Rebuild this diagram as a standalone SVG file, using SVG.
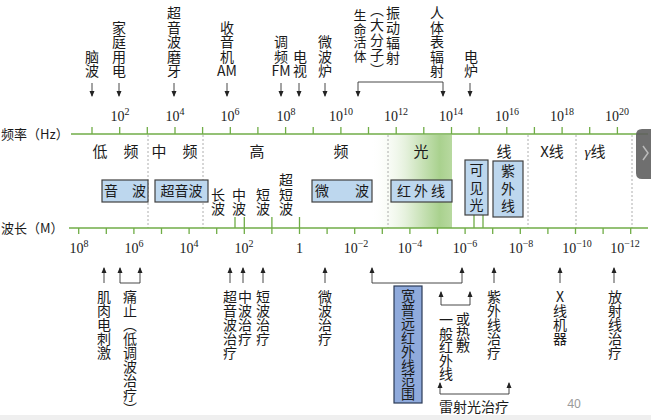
<svg xmlns="http://www.w3.org/2000/svg" width="651" height="420" viewBox="0 0 651 420">
<defs>
<style>
.t{font-family:"Noto Sans CJK SC","Noto Sans",sans-serif;font-size:14px;fill:#1a1a1a;text-anchor:middle}
.v{font-family:"Noto Sans CJK SC","Noto Sans",sans-serif;font-size:14px;fill:#1a1a1a;writing-mode:vertical-rl;text-orientation:upright;text-anchor:start}
.b{font-size:15px}
.n{font-family:"Liberation Serif","DejaVu Serif",serif;font-size:14px;fill:#1a1a1a;text-anchor:middle}
.sup{font-size:10px}
.ax{stroke:#70ad47;stroke-width:1.5;fill:none}
.tk{stroke:#70ad47;stroke-width:1.3}
.dash{stroke:#9a9a9a;stroke-width:0.8;stroke-dasharray:2,2;fill:none}
.box{fill:#bdd7ee;stroke:#404040;stroke-width:1.2}
.ar{stroke:#333;stroke-width:0.9;fill:none}
</style>
<linearGradient id="gr" x1="370" y1="0" x2="452" y2="0" gradientUnits="userSpaceOnUse">
<stop offset="0" stop-color="#ffffff" stop-opacity="0"/>
<stop offset="0.45" stop-color="#e3f0da"/>
<stop offset="0.85" stop-color="#a9d18e"/>
<stop offset="1" stop-color="#b8d9a0"/>
</linearGradient>
<marker id="ah" viewBox="0 0 6 6" refX="5" refY="3" markerWidth="6" markerHeight="6" markerUnits="userSpaceOnUse" orient="auto">
<path d="M0,0.5 L6,3 L0,5.5 Z" fill="#222"/>
</marker>
</defs>
<rect width="651" height="420" fill="#fff"/>
<rect x="0" y="415" width="651" height="5" fill="#efefef"/>

<rect x="370" y="135" width="82" height="93" fill="url(#gr)"/>

<g id="separators">
<line class="dash" x1="148" y1="135" x2="148" y2="228"/>
<line class="dash" x1="203" y1="135" x2="203" y2="228"/>
<line class="dash" x1="388" y1="135" x2="388" y2="228"/>
<line class="dash" x1="528" y1="135" x2="528" y2="228"/>
<line class="dash" x1="576" y1="135" x2="576" y2="228"/>
<line class="dash" x1="632" y1="135" x2="632" y2="228"/>
</g>

<g id="freq-axis">
<text class="t" x="1" y="138.5" style="font-size:13px;text-anchor:start">频率（Hz）</text>
<line class="ax" x1="71" y1="134" x2="648" y2="134"/>
<path class="tk" d="M92,127V134M119.7,127V134M147.3,127V134M175,127V134M202.6,127V134M230.3,127V134M257.9,127V134M285.6,127V134M313.2,127V134M340.9,127V134M368.5,127V134M396.2,127V134M423.8,127V134M451.5,127V134M479.1,127V134M506.8,127V134M534.4,127V134M562.1,127V134M589.7,127V134M617.4,127V134"/>
<text class="n" x="120" y="121">10<tspan class="sup" dy="-6">2</tspan></text>
<text class="n" x="175" y="121">10<tspan class="sup" dy="-6">4</tspan></text>
<text class="n" x="230" y="121">10<tspan class="sup" dy="-6">6</tspan></text>
<text class="n" x="286" y="121">10<tspan class="sup" dy="-6">8</tspan></text>
<text class="n" x="341" y="121">10<tspan class="sup" dy="-6">10</tspan></text>
<text class="n" x="396" y="121">10<tspan class="sup" dy="-6">12</tspan></text>
<text class="n" x="451" y="121">10<tspan class="sup" dy="-6">14</tspan></text>
<text class="n" x="507" y="121">10<tspan class="sup" dy="-6">16</tspan></text>
<text class="n" x="562" y="121">10<tspan class="sup" dy="-6">18</tspan></text>
<text class="n" x="617" y="121">10<tspan class="sup" dy="-6">20</tspan></text>
</g>

<g id="wave-axis">
<text class="t" x="1" y="232.5" style="font-size:13px;text-anchor:start">波长（M）</text>
<line class="ax" x1="69" y1="228" x2="648" y2="228"/>
<path class="tk" d="M78.7,228V234M106.3,228V234M133.9,228V234M161.5,228V234M189.1,228V234M216.7,228V234M244.3,217V234M271.9,217V234M299.5,217V234M327.1,228V234M354.7,228V234M382.3,228V234M409.9,228V234M437.5,228V234M465.1,228V234M492.7,228V234M520.3,228V234M547.9,228V234M575.5,228V234M603.1,228V234M630.7,228V234M235,217V228M474,215V228M483,215V228"/>
<text class="n" x="79" y="253">10<tspan class="sup" dy="-6">8</tspan></text>
<text class="n" x="134" y="253">10<tspan class="sup" dy="-6">6</tspan></text>
<text class="n" x="189" y="253">10<tspan class="sup" dy="-6">4</tspan></text>
<text class="n" x="244" y="253">10<tspan class="sup" dy="-6">2</tspan></text>
<text class="n" x="299.5" y="253">1</text>
<text class="n" x="356" y="253">10<tspan class="sup" dy="-6">−2</tspan></text>
<text class="n" x="410" y="253">10<tspan class="sup" dy="-6">−4</tspan></text>
<text class="n" x="465" y="253">10<tspan class="sup" dy="-6">−6</tspan></text>
<text class="n" x="521" y="253">10<tspan class="sup" dy="-6">−8</tspan></text>
<text class="n" x="577" y="253">10<tspan class="sup" dy="-6">−10</tspan></text>
<text class="n" x="625" y="253">10<tspan class="sup" dy="-6">−12</tspan></text>
</g>

<g id="bands">
<text class="t b" x="100" y="157">低</text>
<text class="t b" x="131" y="157">频</text>
<text class="t b" x="159" y="157">中</text>
<text class="t b" x="190" y="157">频</text>
<text class="t b" x="257" y="157">高</text>
<text class="t b" x="341" y="157">频</text>
<text class="t b" x="421" y="157">光</text>
<text class="t b" x="504" y="157">线</text>
<text class="t b" x="552" y="157">X线</text>
<text class="t b" x="595" y="157"><tspan style="font-family:'Liberation Serif',serif;font-style:italic">γ</tspan>线</text>
</g>

<g id="sound"><rect class="box" x="102" y="180" width="46" height="22"/><text class="t" x="125" y="196">音　波</text></g>
<g id="ultrasound"><rect class="box" x="155" y="180" width="53" height="22"/><text class="t" x="181.5" y="196">超音波</text></g>
<g id="microwave"><rect class="box" x="312" y="180" width="60" height="22"/><text class="t" x="342" y="196" style="letter-spacing:6px" dx="3">微　波</text></g>
<g id="infrared"><rect class="box" x="391" y="180" width="61" height="22"/><text class="t" x="421" y="196" style="letter-spacing:3px" dx="1.5">红外线</text></g>
<g id="visible"><rect class="box" x="465" y="160" width="23" height="55"/><text class="v" x="476.5" y="163" style="letter-spacing:3.5px">可见光</text></g>
<g id="uv"><rect class="box" x="493" y="161" width="30" height="56"/><text class="v" x="508" y="164" style="letter-spacing:3.5px">紫外线</text></g>

<g id="lw"><text class="v" x="218" y="188">长波</text></g>
<g id="mw"><text class="v" x="239" y="188">中波</text></g>
<g id="sw"><text class="v" x="263" y="188">短波</text></g>
<g id="usw"><text class="v" x="286" y="173" style="letter-spacing:0.5px">超短波</text></g>

<g id="top-labels">
<text class="v" x="92" y="49.5" style="letter-spacing:0.5px">脑波</text>
<text class="v" x="119" y="20.5" style="letter-spacing:0.5px">家庭用电</text>
<text class="v" x="174" y="6" style="letter-spacing:0.5px">超音波磨牙</text>
<text class="v" x="227" y="20.5" style="letter-spacing:0.5px">收音机</text>
<text class="t" x="227" y="76">AM</text>
<text class="v" x="281" y="35" style="letter-spacing:0.5px">调频</text>
<text class="t" x="281" y="76">FM</text>
<text class="v" x="300" y="49.5" style="letter-spacing:0.5px">电视</text>
<text class="v" x="325" y="35" style="letter-spacing:0.5px">微波炉</text>
<text class="v" x="360" y="9" style="font-size:13px;letter-spacing:0.5px">生命活体</text>
<text class="v" x="377" y="3" style="letter-spacing:1px;text-orientation:mixed">（大分子）</text>
<text class="v" x="393" y="6" style="letter-spacing:1px">振动辐射</text>
<text class="v" x="437" y="6" style="letter-spacing:0.5px">人体表辐射</text>
<text class="v" x="471" y="49.5" style="letter-spacing:0.5px">电炉</text>
</g>

<g id="bottom-labels">
<text class="v" x="104" y="290">肌肉电刺激</text>
<text class="v" x="130" y="290" style="text-orientation:mixed">痛止（低调波治疗）</text>
<text class="v" x="230" y="290">超音波治疗</text>
<text class="v" x="245" y="290">中波治疗</text>
<text class="v" x="263" y="290">短波治疗</text>
<text class="v" x="325" y="290">微波治疗</text>
<text class="v" x="494" y="290">紫外线治疗</text>
<text class="v" x="560" y="290">X线机器</text>
<text class="v" x="615" y="290">放射线治疗</text>
<text class="v" x="446" y="313" style="letter-spacing:-0.5px">一般红外线</text>
<text class="v" x="463" y="312" style="letter-spacing:-0.5px">或热敷</text>
<text class="t" x="474" y="412">雷射光治疗</text>
</g>

<g id="far-infrared">
<rect x="394" y="286" width="28" height="117" fill="#8faadc" stroke="#2b3a55" stroke-width="1.2"/>
<text class="v" x="408" y="289">宽普远红外线范围</text>
</g>

<g id="connectors">
<line class="ar" x1="92" y1="83" x2="92" y2="96" marker-end="url(#ah)"/>
<line class="ar" x1="119" y1="83" x2="119" y2="96" marker-end="url(#ah)"/>
<line class="ar" x1="174" y1="83" x2="174" y2="96" marker-end="url(#ah)"/>
<line class="ar" x1="227" y1="83" x2="227" y2="96" marker-end="url(#ah)"/>
<line class="ar" x1="281" y1="83" x2="281" y2="96" marker-end="url(#ah)"/>
<line class="ar" x1="299" y1="83" x2="299" y2="96" marker-end="url(#ah)"/>
<line class="ar" x1="325" y1="83" x2="325" y2="96" marker-end="url(#ah)"/>
<line class="ar" x1="470" y1="83" x2="470" y2="96" marker-end="url(#ah)"/>
<path class="ar" d="M358,82H443"/>
<line class="ar" x1="358" y1="82" x2="358" y2="96" marker-end="url(#ah)"/>
<line class="ar" x1="443" y1="82" x2="443" y2="96" marker-end="url(#ah)"/>

<line class="ar" x1="104" y1="283" x2="104" y2="268" marker-end="url(#ah)"/>
<path class="ar" d="M120,283H140"/>
<line class="ar" x1="120" y1="283" x2="120" y2="268" marker-end="url(#ah)"/>
<line class="ar" x1="140" y1="283" x2="140" y2="268" marker-end="url(#ah)"/>
<line class="ar" x1="230" y1="283" x2="230" y2="268" marker-end="url(#ah)"/>
<line class="ar" x1="243" y1="283" x2="243" y2="268" marker-end="url(#ah)"/>
<line class="ar" x1="263" y1="283" x2="263" y2="268" marker-end="url(#ah)"/>
<line class="ar" x1="325" y1="283" x2="325" y2="268" marker-end="url(#ah)"/>
<path class="ar" d="M372,283H462"/>
<line class="ar" x1="372" y1="283" x2="372" y2="268" marker-end="url(#ah)"/>
<line class="ar" x1="462" y1="283" x2="462" y2="268" marker-end="url(#ah)"/>
<line class="ar" x1="494" y1="283" x2="494" y2="268" marker-end="url(#ah)"/>
<line class="ar" x1="560" y1="283" x2="560" y2="268" marker-end="url(#ah)"/>
<line class="ar" x1="614" y1="283" x2="614" y2="268" marker-end="url(#ah)"/>
<path class="ar" d="M441,305H470"/>
<line class="ar" x1="441" y1="305" x2="441" y2="292" marker-end="url(#ah)"/>
<line class="ar" x1="470" y1="305" x2="470" y2="292" marker-end="url(#ah)"/>
<path class="ar" d="M440,394H509"/>
<line class="ar" x1="440" y1="394" x2="440" y2="383" marker-end="url(#ah)"/>
<line class="ar" x1="509" y1="394" x2="509" y2="383" marker-end="url(#ah)"/>
</g>

<text x="574" y="408" style="font-family:'Noto Sans','Liberation Sans',sans-serif;font-size:12px;fill:#9a9a9a;text-anchor:middle">40</text>

<path d="M651,129H642Q636,129 636,135V173Q636,179 642,179H651Z" fill="#5f5f5f" fill-opacity="0.9"/>
<path d="M643,146L648,153L643,160" fill="none" stroke="#bbbbbb" stroke-width="1.5"/>
</svg>
